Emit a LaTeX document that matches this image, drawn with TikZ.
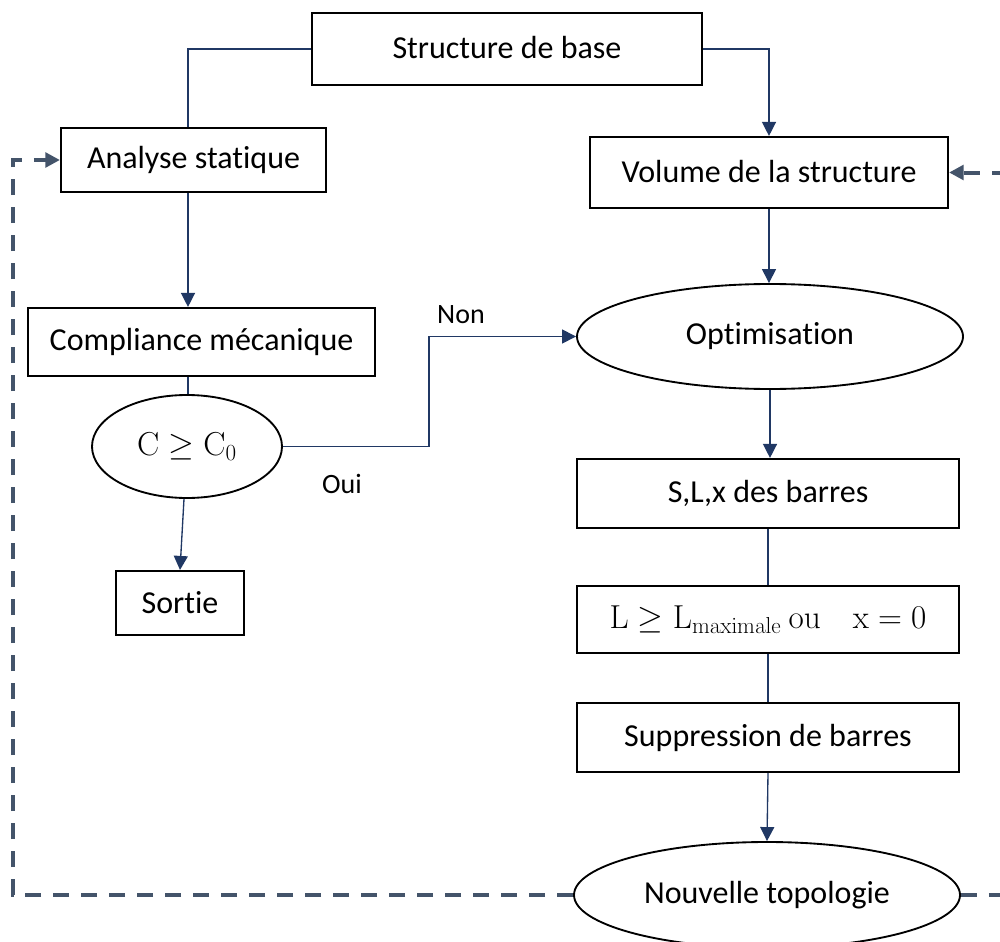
\documentclass[tikz,border=0pt]{standalone}
\usepackage[no-math]{fontspec}
\setmainfont{Carlito}[Ligatures=NoCommon]
\usetikzlibrary{arrows.meta,calc,shapes.geometric}
\definecolor{navy}{HTML}{203864}
\definecolor{slate}{HTML}{44546A}
\begin{document}
\begin{tikzpicture}[x=0.75pt,y=-0.75pt,
  box/.style={draw=black,line width=1.6pt,inner sep=0pt,font=\fontsize{24}{28}\selectfont},
  oval/.style={draw=black,line width=1.4pt,ellipse,inner sep=0pt,font=\fontsize{24}{28}\selectfont},
  conn/.style={draw=navy,line width=1pt},
  arr/.style={conn,-{Triangle[length=10.5pt,width=10.5pt]}},
  loop/.style={draw=slate,line width=3pt,dash pattern=on 12pt off 9pt,-{Triangle[length=11pt,width=11pt]}},
  lbl/.style={font=\fontsize{21}{24}\selectfont}]
\clip (0,0) rectangle (1000,942);
\fill[white] (0,0) rectangle (1000,942);
\node[box,minimum width=390*0.75pt,minimum height=72*0.75pt] (base) at (507,49) {\raisebox{2pt}{Structure de base}};
\node[box,minimum width=265*0.75pt,minimum height=64*0.75pt] (analyse) at (193.5,160) {Analyse statique};
\node[box,minimum width=358*0.75pt,minimum height=71*0.75pt] (volume) at (769,172.5) {\raisebox{2pt}{Volume de la structure}};
\node[box,minimum width=347*0.75pt,minimum height=68*0.75pt] (compl) at (201.5,342) {Compliance mécanique};
\node[oval,minimum width=190*0.75pt,minimum height=103*0.75pt] (cond) at (187,446.5) {$\mathrm{C}\geq\mathrm{C}_0$};
\node[box,minimum width=128*0.75pt,minimum height=64*0.75pt] (sortie) at (180,603) {Sortie};
\node[oval,minimum width=386*0.75pt,minimum height=105*0.75pt] (optim) at (770,336.5) {\raisebox{-2pt}{Optimisation}};
\node[box,minimum width=382*0.75pt,minimum height=69*0.75pt] (slx) at (768,493.5) {S,L,x des barres};
\node[box,minimum width=382*0.75pt,minimum height=67*0.75pt] (lbox) at (768,619.5) {$\mathrm{L}\geq\mathrm{L}_{\mathrm{maximale}}\ \mathrm{ou}\quad\mathrm{x}=0$};
\node[box,minimum width=382*0.75pt,minimum height=69*0.75pt] (supp) at (768,737.5) {Suppression de barres};
\node[oval,minimum width=386*0.75pt,minimum height=106*0.75pt] (nouv) at (767,895) {\raisebox{-2pt}{Nouvelle topologie}};
\node[lbl] (non) at (461,315) {Non};
\node[lbl] (oui) at (342,484) {Oui};
\coordinate (a1) at (188,49);
\coordinate (elb) at (429,446.5);
\coordinate (dl) at (13,895);
\coordinate (dlu) at (13,160);
\coordinate (dr) at (1015,895);
\coordinate (dru) at (1015,172.5);
% connectors
\draw[conn] (base.west) -- (a1) -- (a1 |- analyse.north);
\draw[arr] (base.east) -| (volume.north);
\draw[arr] (a1 |- analyse.south) -- (a1 |- compl.north);
\draw[conn] (a1 |- compl.south) -- (a1 |- cond.north);
\draw[arr] ($(cond.south)+(-3,0)$) -- (sortie.north);
\draw[arr] (cond.east) -- (elb) |- (optim.west);
\draw[arr] (volume.south) -- (volume.south |- optim.north);
\draw[arr] (optim.south) -- ($(slx.north)+(2,0)$);
\draw[conn] (slx.south) -- (lbox.north);
\draw[conn] (lbox.south) -- (supp.north);
\draw[arr] (supp.south) -- (nouv.north);
\draw[loop] (nouv.west) -- (dl) -- (dlu) -- (analyse.west);
\draw[loop] (nouv.east) -- (dr) -- (dru) -- (volume.east);
\end{tikzpicture}
\end{document}
